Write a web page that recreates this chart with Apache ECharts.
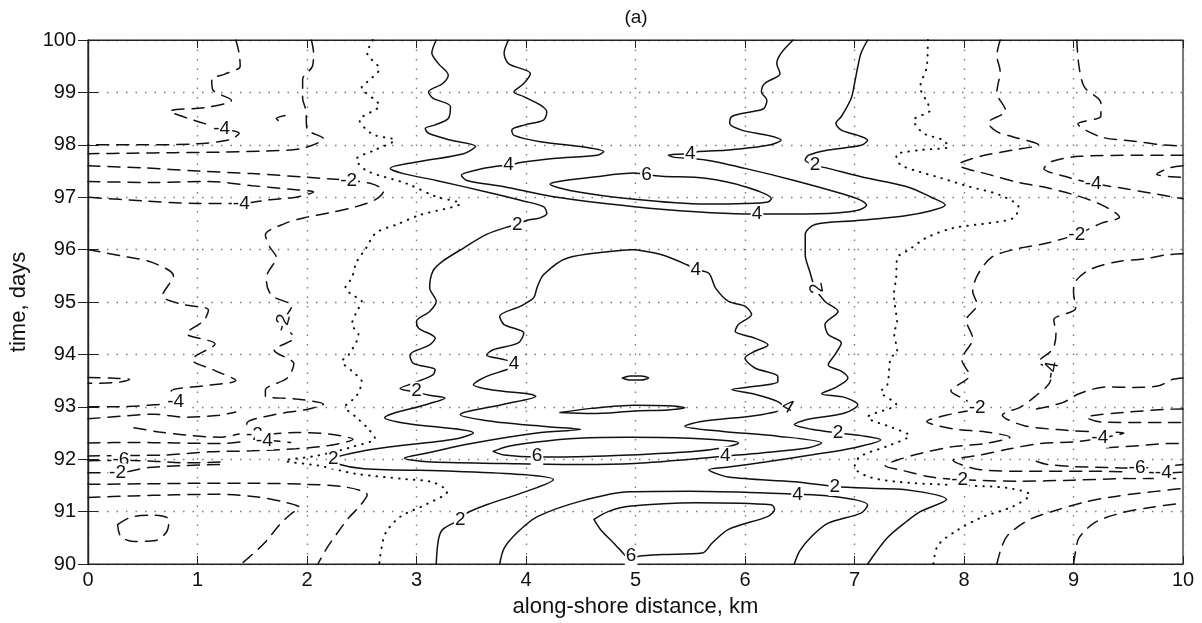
<!DOCTYPE html>
<html>
<head>
<meta charset="utf-8">
<script src="https://cdn.jsdelivr.net/npm/echarts@6/dist/echarts.min.js"></script>
<style>
  html, body { margin: 0; padding: 0; background: #fff; }
  #chart { width: 1202px; height: 623px; }
</style>
</head>
<body>
<div id="chart"></div>
<script>
// Along-shore distance (km) and time (days) axes
const xTicks = [0, 1, 2, 3, 4, 5, 6, 7, 8, 9, 10];
const yTicks = [90, 91, 92, 93, 94, 95, 96, 97, 98, 99, 100];

// ---- positive contours (solid) : [km, day] ----
const pos2Left = [[3.18,100],[3.14,99.75],[3.20,99.55],[3.29,99.33],[3.24,99.17],[3.11,99.01],[3.15,98.89],[3.31,98.73],[3.29,98.50],[3.17,98.38],[3.08,98.31],[3.11,98.22],[3.31,98.09],[3.54,97.97],[3.43,97.83],[3.03,97.68],[2.76,97.55],[2.88,97.45],[3.18,97.32],[3.64,97.10],[3.95,96.94],[4.16,96.82],[4.19,96.69],[4.12,96.6],[4.01,96.56],[3.92,96.48],[3.86,96.45],[3.64,96.29],[3.43,96.03],[3.24,95.78],[3.15,95.59],[3.12,95.27],[3.18,95.01],[3.12,94.82],[3.0,94.63],[3.02,94.50],[3.17,94.31],[3.12,94.18],[2.94,93.99],[2.97,93.83],[3.17,93.71],[3.15,93.61],[2.97,93.45],[2.85,93.35],[3.0,93.28],[3.12,93.22],[3.26,93.17],[3.1,93.05],[2.71,92.79],[2.88,92.69],[3.52,92.50],[3.34,92.38],[2.7,92.22],[2.42,92.12],[2.24,92.0],[2.3,91.9],[2.52,91.82],[3.34,91.77],[3.95,91.71],[4.25,91.61],[4.01,91.39],[3.64,91.13],[3.46,90.97],[3.40,90.85],[3.24,90.66],[3.2,90.46],[3.18,90]];
const pos2Right = [[7.12,100],[7.06,99.75],[7.03,99.49],[7.0,99.17],[6.97,98.89],[6.88,98.54],[6.83,98.41],[6.88,98.28],[7.03,98.18],[7.12,98.09],[7.06,97.99],[6.76,97.90],[6.58,97.80],[6.55,97.71],[6.64,97.61],[6.76,97.55],[7.06,97.39],[7.48,97.2],[7.7,97.0],[7.83,96.85],[7.7,96.74],[7.45,96.64],[7.0,96.55],[6.64,96.48],[6.55,96.29],[6.55,95.90],[6.59,95.59],[6.64,95.27],[6.73,95.01],[6.85,94.82],[6.73,94.57],[6.76,94.38],[6.88,94.22],[6.82,93.99],[6.76,93.80],[6.88,93.68],[6.94,93.55],[6.82,93.36],[6.70,93.25],[6.91,93.18],[7.03,93.04],[6.91,92.88],[6.55,92.75],[6.45,92.66],[6.61,92.57],[6.85,92.50],[7.06,92.45],[7.24,92.37],[7.0,92.22],[6.6,92.08],[6.2,91.95],[5.85,91.85],[5.67,91.80],[5.85,91.66],[6.45,91.57],[6.82,91.48],[7.2,91.44],[7.45,91.42],[7.84,91.23],[7.6,91.0],[7.48,90.82],[7.3,90.5],[7.12,90]];
const pos4Upper = [[3.84,100],[3.80,99.75],[3.84,99.55],[4.04,99.36],[3.98,99.17],[3.89,99.01],[3.98,98.92],[4.13,98.76],[4.19,98.63],[4.16,98.47],[3.99,98.38],[3.87,98.28],[3.89,98.18],[4.13,98.06],[4.53,97.96],[4.71,97.87],[4.65,97.80],[4.25,97.74],[3.95,97.66],[3.84,97.61],[3.73,97.59],[3.55,97.52],[3.41,97.42],[3.46,97.32],[3.80,97.20],[4.25,97.01],[4.99,96.82],[5.55,96.72],[6.0,96.68],[6.11,96.68],[6.21,96.68],[6.76,96.69],[7.03,96.75],[7.11,96.85],[7.06,96.94],[6.88,97.07],[6.45,97.32],[6.0,97.55],[5.64,97.71],[5.36,97.76],[5.30,97.80],[5.39,97.82],[5.50,97.83],[5.58,97.87],[5.85,97.90],[6.21,97.99],[6.33,98.09],[6.21,98.18],[5.97,98.28],[5.86,98.41],[5.88,98.54],[6.06,98.63],[6.17,98.69],[6.20,98.85],[6.15,99.01],[6.18,99.17],[6.32,99.36],[6.29,99.55],[6.33,99.75],[6.44,100]];
const pos4Dome = [[4.99,96.0],[4.38,95.84],[4.16,95.52],[4.10,95.27],[4.07,95.08],[3.95,94.92],[3.76,94.73],[3.80,94.57],[3.98,94.41],[3.93,94.22],[3.70,94.09],[3.64,93.99],[3.80,93.90],[3.89,93.83],[3.86,93.74],[3.64,93.58],[3.52,93.42],[3.70,93.32],[4.04,93.24],[4.09,93.2],[3.8,93.05],[3.40,92.85],[3.7,92.72],[4.2,92.62],[4.5,92.57],[4.1,92.5],[3.5,92.3],[3.1,92.12],[2.89,92.02],[3.1,91.95],[3.8,91.92],[4.5,91.9],[4.99,91.92],[5.5,92.0],[5.82,92.06],[6.15,92.12],[6.58,92.22],[6.70,92.31],[6.30,92.44],[5.8,92.53],[5.45,92.63],[5.6,92.72],[6.15,92.85],[6.36,92.98],[6.3,93.1],[6.09,93.24],[5.88,93.33],[6.09,93.39],[6.30,93.48],[6.30,93.58],[6.09,93.74],[6.0,93.93],[6.09,94.06],[6.21,94.18],[6.09,94.31],[5.91,94.44],[5.94,94.57],[6.06,94.76],[6.0,94.92],[5.85,95.01],[5.73,95.27],[5.67,95.55],[5.55,95.62],[5.47,95.71],[5.24,95.90],[4.99,96.0]];
const pos4Bottom = [[3.76,90],[3.80,90.3],[3.92,90.6],[4.10,90.9],[4.5,91.2],[4.94,91.38],[5.5,91.39],[6.0,91.37],[6.48,91.33],[6.76,91.3],[7.0,91.23],[7.12,91.13],[7.06,90.97],[6.76,90.78],[6.61,90.53],[6.5,90.25],[6.45,90]];
const pos6Top = [[5.10,97.43],[4.99,97.46],[4.6,97.38],[4.3,97.30],[4.22,97.25],[4.4,97.13],[4.99,96.96],[5.64,96.87],[6.0,96.88],[6.21,96.91],[6.24,96.97],[6.0,97.20],[5.64,97.36],[5.24,97.40],[5.10,97.43]];
const pos6Mid = [[3.70,92.15],[3.85,92.25],[4.1,92.33],[4.48,92.4],[4.94,92.42],[5.5,92.4],[5.85,92.35],[5.94,92.31],[5.8,92.22],[5.5,92.14],[4.94,92.08],[4.57,92.05],[4.10,92.04],[3.8,92.08],[3.70,92.15]];
const pos6Upper = [[4.31,92.89],[4.6,92.97],[4.99,93.03],[5.3,93.02],[5.45,92.98],[5.3,92.94],[4.99,92.92],[4.6,92.87],[4.31,92.89]];
const pos6Dot = [[4.88,93.55],[4.95,93.59],[5.05,93.59],[5.12,93.55],[5.05,93.51],[4.95,93.51],[4.88,93.55]];
const pos6Bottom = [[4.62,90.85],[4.75,91.0],[4.94,91.1],[5.55,91.17],[6.24,91.13],[6.27,91.04],[6.21,90.91],[5.85,90.66],[5.70,90.4],[5.61,90.21],[5.24,90.18],[5.03,90.15],[4.95,90.1],[4.86,90.27],[4.80,90.4],[4.68,90.66],[4.62,90.85]];

// ---- zero contours (dotted) ----
const zeroLeft = [[2.6,100],[2.55,99.75],[2.66,99.45],[2.55,99.2],[2.5,99.1],[2.66,98.75],[2.48,98.47],[2.6,98.2],[2.8,98.09],[2.62,97.9],[2.45,97.72],[2.55,97.5],[2.91,97.26],[3.18,97.01],[3.4,96.88],[3.03,96.66],[2.82,96.48],[2.63,96.32],[2.54,96.03],[2.45,95.75],[2.41,95.46],[2.35,95.27],[2.41,95.14],[2.5,95.01],[2.45,94.8],[2.41,94.57],[2.47,94.38],[2.38,93.99],[2.32,93.87],[2.41,93.68],[2.5,93.48],[2.45,93.2],[2.35,93.0],[2.45,92.8],[2.55,92.6],[2.62,92.4],[2.42,92.24],[2.1,92.07],[1.8,91.97],[2.1,91.88],[2.45,91.72],[2.9,91.62],[3.15,91.56],[3.28,91.38],[3.1,91.15],[2.85,90.9],[2.72,90.6],[2.68,90.3],[2.66,90]];
const zeroRight = [[7.67,100],[7.66,99.49],[7.60,99.1],[7.67,98.79],[7.69,98.66],[7.54,98.47],[7.63,98.22],[7.81,98.09],[7.86,97.96],[7.6,97.9],[7.38,97.8],[7.42,97.62],[7.6,97.48],[7.75,97.39],[8.05,97.2],[8.33,97.04],[8.5,96.8],[8.45,96.6],[8.24,96.51],[7.9,96.41],[7.66,96.23],[7.5,96.0],[7.39,95.84],[7.38,95.46],[7.36,95.14],[7.39,94.57],[7.36,94.44],[7.39,94.06],[7.33,93.93],[7.3,93.42],[7.24,93.29],[7.38,93.05],[7.12,92.8],[7.35,92.6],[7.5,92.45],[7.3,92.25],[7.05,92.05],[7.0,91.85],[7.15,91.65],[7.5,91.55],[8.0,91.5],[8.4,91.45],[8.6,91.32],[8.45,91.1],[8.15,90.88],[7.92,90.62],[7.76,90.35],[7.72,90]];

// ---- negative contours (dashed), left side ----
const neg4TopLeft = [[1.35,100],[1.38,99.75],[1.39,99.5],[1.25,99.35],[1.13,99.25],[1.14,99.05],[1.31,98.85],[1.1,98.72],[0.75,98.64],[0.95,98.48],[1.22,98.31],[1.38,98.22],[1.3,98.1],[1.0,98.02],[0.5,98.0],[0,98.0]];
const neg2TopLeft = [[2.04,100],[2.06,99.75],[2.05,99.5],[1.96,99.25],[1.96,98.9],[1.99,98.65],[2.0,98.3],[2.15,98.12],[1.95,97.93],[1.6,97.88],[1.2,97.86],[0.8,97.85],[0.4,97.84],[0,97.83]];
const neg2Hook = [[1.8,98.56],[1.72,98.5],[1.76,98.43]];
const neg2Left = [[0,97.6],[0.5,97.56],[1.0,97.5],[1.5,97.45],[2.0,97.38],[2.38,97.32],[2.6,97.25],[2.7,97.12],[2.62,96.95],[2.45,96.82],[2.2,96.7],[2.0,96.62],[1.8,96.5],[1.62,96.28],[1.66,96.05],[1.72,95.85],[1.64,95.55],[1.63,95.38],[1.68,95.12],[1.86,94.92],[1.78,94.6],[1.88,94.32],[1.7,94.08],[1.88,93.82],[1.82,93.55],[1.62,93.32],[1.62,93.2],[1.9,93.15],[2.15,93.05],[2.0,92.95],[1.7,92.85],[1.45,92.68],[1.52,92.46],[1.9,92.51],[2.2,92.48],[2.42,92.38],[2.2,92.26],[1.9,92.2],[1.5,92.16],[1.1,92.14],[0.7,92.08],[0.3,92.07],[0,92.06]];
const neg4MidLeft = [[0,97.3],[0.6,97.28],[1.1,97.3],[1.5,97.22],[1.85,97.15],[2.06,97.1],[1.9,97.0],[1.65,96.95],[1.40,96.88],[1.0,96.88],[0.5,96.93],[0,97.0]];
const neg4Left = [[0,96.0],[0.33,95.87],[0.58,95.76],[0.78,95.5],[0.68,95.12],[0.85,94.96],[1.1,94.85],[1.06,94.65],[0.9,94.4],[1.16,94.2],[0.95,93.9],[1.15,93.7],[1.35,93.5],[1.06,93.4],[0.76,93.3],[0.8,93.11],[0.55,93.03],[0.2,93.0],[0,93.0]];
const neg6EdgeLeft = [[0,93.56],[0.2,93.55],[0.38,93.52],[0.25,93.46],[0,93.45]];
const negBandL1 = [[0,92.77],[0.3,92.82],[0.6,92.86],[0.9,92.8],[1.2,92.84],[1.35,92.9]];
const negBandL2 = [[0.42,92.6],[0.65,92.52],[0.9,92.46],[1.2,92.42],[1.38,92.48]];
const negBandL3 = [[0,92.31],[0.4,92.32],[0.8,92.31],[1.2,92.3],[1.61,92.36],[1.85,92.32]];
const negBandL4 = [[0,91.97],[0.3,91.98],[0.6,91.96],[0.9,91.93],[1.25,91.95]];
const negBandL5 = [[0,91.74],[0.27,91.74],[0.55,91.84],[0.9,91.88],[1.2,91.9]];
const neg2LowLeft = [[0,91.52],[0.5,91.53],[1.0,91.54],[1.5,91.54],[2.0,91.52],[2.35,91.47],[2.55,91.32],[2.48,91.1],[2.38,90.88],[2.28,90.6],[2.18,90.3],[2.1,90]];
const neg4LowLeft = [[0,91.27],[0.4,91.3],[0.8,91.32],[1.2,91.33],[1.55,91.28],[1.8,91.18],[1.93,91.08],[1.85,90.95],[1.75,90.75],[1.62,90.42],[1.5,90.18],[1.4,90]];
const negLoopLeft = [[0.27,90.75],[0.4,90.9],[0.6,90.93],[0.74,90.85],[0.72,90.62],[0.62,90.45],[0.42,90.43],[0.3,90.52],[0.27,90.75]];

// ---- negative contours (dashed), right side ----
const neg2Right = [[8.33,100],[8.3,99.7],[8.33,99.4],[8.3,99.0],[8.38,98.65],[8.22,98.42],[8.3,98.25],[8.45,98.15],[8.68,98.0],[8.45,97.9],[8.15,97.78],[7.95,97.62],[8.25,97.42],[8.5,97.28],[8.76,97.18],[9.03,97.03],[9.26,96.85],[9.42,96.62],[9.25,96.5],[9.03,96.29],[8.75,96.12],[8.45,96.0],[8.25,95.85],[8.12,95.5],[8.08,95.2],[8.12,94.95],[8.02,94.65],[8.08,94.3],[7.98,93.9],[8.05,93.6],[7.88,93.3],[8.0,93.15],[8.12,92.98],[7.9,92.87],[7.66,92.72],[7.9,92.58],[8.2,92.52],[8.42,92.42],[8.2,92.3],[7.9,92.24],[7.62,92.12],[7.4,91.99],[7.28,91.88],[7.45,91.78],[7.7,91.66],[7.96,91.61],[8.5,91.58],[9.0,91.6],[9.5,91.63],[10,91.63]];
const neg4TopRight = [[9.03,100],[9.05,99.5],[9.1,99.1],[9.25,98.8],[9.25,98.55],[9.04,98.4],[9.25,98.15],[9.55,98.07],[9.8,98.0],[10,97.98]];
const neg4MidRight = [[10,97.8],[9.6,97.8],[9.06,97.78],[8.8,97.68],[8.73,97.55],[8.95,97.38],[9.18,97.26],[9.45,97.17],[9.7,97.08],[10,96.97]];
const neg6EdgeRight = [[10,97.6],[9.88,97.56],[9.76,97.44],[9.9,97.39],[10,97.38]];
const neg4Right = [[10,95.92],[9.85,95.9],[9.64,95.82],[9.4,95.77],[9.15,95.62],[9.02,95.4],[9.0,95.2],[9.02,94.88],[8.82,94.66],[8.84,94.4],[8.81,94.1],[8.68,93.85],[8.8,93.7],[8.78,93.45],[8.65,93.2],[8.52,93.0],[8.35,92.84],[8.55,92.64],[8.95,92.55],[9.2,92.52],[9.46,92.5],[9.24,92.4],[9.0,92.33],[8.7,92.3],[8.42,92.2],[8.15,92.08],[7.9,91.98],[8.15,91.8],[8.6,91.77],[9.1,91.77],[9.5,91.76],[9.82,91.74],[10,91.75]];
const neg6Right = [[8.66,91.96],[8.76,91.9],[9.0,91.86],[9.3,91.84],[9.58,91.83],[9.8,91.86],[10,91.9]];
const negBandR1 = [[9.3,92.22],[9.6,92.26],[9.9,92.3],[10,92.3]];
const negBandR2 = [[10,92.96],[9.82,92.95],[9.45,92.89],[9.2,92.84],[9.12,92.8],[9.25,92.71],[9.55,92.7],[9.85,92.7],[10,92.7]];
const negBandR3 = [[10,93.55],[9.9,93.52],[9.78,93.4],[9.55,93.37],[9.3,93.38],[9.05,93.25],[8.9,93.08],[8.62,92.94]];
const neg2LowRight = [[8.3,90],[8.34,90.3],[8.4,90.55],[8.6,90.85],[8.85,91.03],[9.1,91.18],[9.35,91.28],[9.6,91.35],[9.9,91.42],[10,91.44]];
const neg4LowRight = [[9.0,90],[9.02,90.25],[9.05,90.5],[9.2,90.8],[9.45,90.98],[9.7,91.08],[9.95,91.15],[10,91.16]];

// ---- contour labels: [km, day, text, rotation] ----
const contourLabels = [
  [3.92,96.48,'2',0],[3.0,93.3,'2',0],[2.24,92.0,'2',0],[3.40,90.85,'2',0],
  [3.84,97.61,'4',0],[5.50,97.83,'4',0],[6.11,96.68,'4',0],[5.10,97.43,'6',0],
  [6.64,97.61,'2',0],[5.55,95.62,'4',0],[6.66,95.27,'2',100],[3.89,93.83,'4',0],
  [6.39,93.0,'4',-30],[6.85,92.50,'2',0],[5.82,92.06,'4',0],[4.10,92.06,'6',0],
  [6.82,91.48,'2',0],[6.48,91.33,'4',0],[4.96,90.16,'6',0],
  [1.22,98.31,'-4',0],[2.38,97.32,'-2',0],[1.40,96.88,'-4',0],[1.78,94.6,'-2',75],
  [0.80,93.1,'-4',0],[1.52,92.46,'-2',0],[1.61,92.36,'-4',0],[0.30,91.98,'-6',0],
  [0.27,91.74,'-2',0],[9.03,96.29,'-2',0],[9.18,97.26,'-4',0],[8.8,93.7,'-4',80],
  [8.12,92.98,'-2',0],[9.24,92.4,'-4',0],[7.96,91.61,'-2',0],[9.58,91.83,'-6',0],
  [9.82,91.74,'-4',0]
];

const solidLines = [pos2Left, pos2Right, pos4Upper, pos4Dome, pos4Bottom, pos6Top, pos6Mid, pos6Upper, pos6Dot, pos6Bottom];
const dottedLines = [zeroLeft, zeroRight];
const dashedLines = [neg4TopLeft, neg2TopLeft, neg2Hook, neg2Left, neg4MidLeft, neg4Left, neg6EdgeLeft,
  negBandL1, negBandL2, negBandL3, negBandL4, negBandL5, neg2LowLeft, neg4LowLeft, negLoopLeft,
  neg2Right, neg4TopRight, neg4MidRight, neg6EdgeRight, neg4Right, neg6Right, negBandR1, negBandR2,
  negBandR3, neg2LowRight, neg4LowRight];

const INK = '#111111';
const FONT = '"Liberation Sans", Arial, Helvetica, sans-serif';

function lineSeries(points, dash, width) {
  return {
    type: 'line', xAxisIndex: 0, yAxisIndex: 0, data: points,
    showSymbol: false, smooth: 0.3, silent: true, z: 3,
    lineStyle: { color: INK, width: width, type: dash, cap: 'round' }
  };
}

const series = [];
solidLines.forEach(p => series.push(lineSeries(p, 'solid', 1.5)));
dashedLines.forEach(p => series.push(lineSeries(p, [12, 8], 1.5)));
dottedLines.forEach(p => series.push(lineSeries(p, [0.5, 7], 2)));

// contour value labels, placed on their contour through the axes' scales,
// drawn with a white knock-out box so the line breaks under the number
series.push({
  type: 'custom', silent: true, z: 10,
  data: contourLabels.map(d => [d[0], d[1], d[3]]),
  renderItem: function (params, api) {
    const p = api.coord([api.value(0), api.value(1)]);
    const rot = api.value(2);
    return {
      type: 'text', x: p[0], y: p[1], rotation: rot * Math.PI / 180,
      style: {
        text: contourLabels[params.dataIndex][2],
        fill: INK, fontFamily: FONT, fontSize: 19,
        align: 'center', verticalAlign: 'middle',
        backgroundColor: '#fff', padding: [0, 1]
      }
    };
  }
});

const gridDots = { show: true, lineStyle: { color: '#7a7a7a', width: 1.4, type: [1.5, 8] } };
const chart = echarts.init(document.getElementById('chart'), null, { renderer: 'canvas' });
chart.setOption({
  animation: false,
  backgroundColor: '#fff',
  textStyle: { fontFamily: FONT },
  grid: { left: 88, right: 19, top: 40, bottom: 59, show: true, borderColor: '#222', borderWidth: 1.2, backgroundColor: 'transparent' },
  title: {
    text: '(a)', left: 631, top: 3, textAlign: 'center',
    textStyle: { fontSize: 19, fontWeight: 'normal', color: INK, fontFamily: FONT }
  },
  xAxis: [{
    type: 'value', min: xTicks[0], max: xTicks[xTicks.length - 1], interval: 1,
    name: 'along-shore distance, km', nameLocation: 'middle', nameGap: 32,
    nameTextStyle: { fontSize: 22, color: INK, fontFamily: FONT },
    axisLine: { show: true, lineStyle: { color: '#222', width: 1.2 } },
    axisTick: { show: true, inside: true, length: 8, lineStyle: { color: '#222' } },
    axisLabel: { fontSize: 20, color: INK, margin: 6, fontFamily: FONT },
    splitLine: gridDots
  }, {
    type: 'value', position: 'top', min: xTicks[0], max: xTicks[xTicks.length - 1], interval: 1,
    axisLine: { show: true, lineStyle: { color: '#222', width: 1.2 } },
    axisTick: { show: true, inside: true, length: 8, lineStyle: { color: '#222' } },
    axisLabel: { show: false }, splitLine: { show: false }
  }],
  yAxis: [{
    type: 'value', min: yTicks[0], max: yTicks[yTicks.length - 1], interval: 1,
    name: 'time, days', nameLocation: 'middle', nameGap: 58, nameRotate: 90,
    nameTextStyle: { fontSize: 22, color: INK, fontFamily: FONT },
    axisLine: { show: true, lineStyle: { color: '#222', width: 1.2 } },
    axisTick: { show: true, inside: true, length: 10, lineStyle: { color: '#222' } },
    axisLabel: { fontSize: 20, color: INK, margin: 12, fontFamily: FONT },
    splitLine: gridDots
  }, {
    type: 'value', position: 'right', min: yTicks[0], max: yTicks[yTicks.length - 1], interval: 1,
    axisLine: { show: true, lineStyle: { color: '#222', width: 1.2 } },
    axisTick: { show: true, inside: true, length: 10, lineStyle: { color: '#222' } },
    axisLabel: { show: false }, splitLine: { show: false }
  }],
  series: series
});
</script>
</body>
</html>
